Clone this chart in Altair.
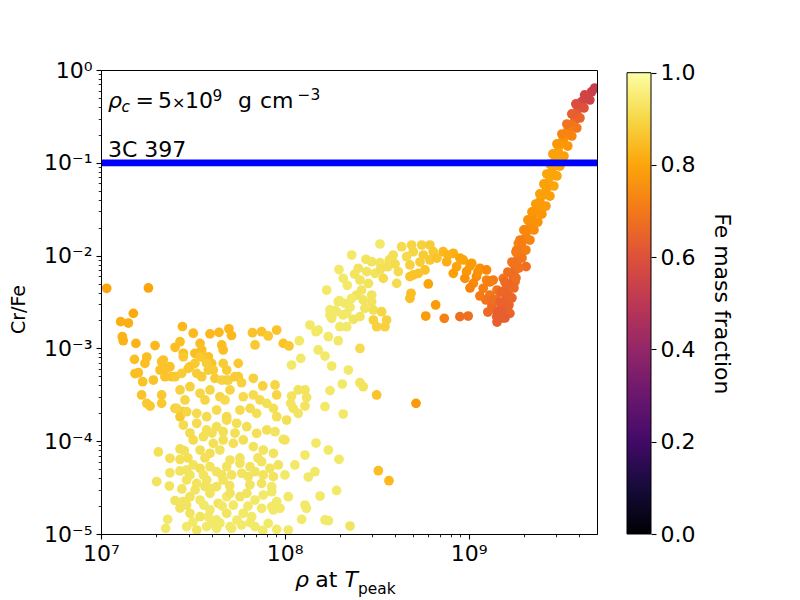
import altair as alt
import pandas as pd

# ---------------------------------------------------------------------------
# Data: (log10 rho at T_peak, log10 Cr/Fe, Fe mass fraction)
# ---------------------------------------------------------------------------
outliers_left = [
    (7.031, -2.352, 0.80), (7.258, -2.349, 0.80), (7.176, -2.622, 0.81),
]

upper_left = [
    (7.107, -2.712, 0.82), (7.149, -2.727, 0.82), (7.116, -2.874, 0.83), (7.121, -2.917, 0.83),
    (7.190, -2.946, 0.83), (7.294, -2.969, 0.84), (7.443, -2.764, 0.84), (7.502, -2.836, 0.84),
    (7.593, -2.843, 0.84), (7.642, -2.827, 0.84), (7.696, -2.789, 0.84), (7.710, -2.861, 0.84),
    (7.182, -3.118, 0.85), (7.249, -3.093, 0.85), (7.239, -3.161, 0.85), (7.185, -3.271, 0.85),
    (7.203, -3.262, 0.85), (7.227, -3.359, 0.86), (7.221, -3.502, 0.86), (7.249, -3.592, 0.87),
    (7.267, -3.621, 0.87), (7.403, -2.988, 0.85), (7.430, -2.928, 0.85), (7.448, -3.053, 0.85),
    (7.511, -3.053, 0.85), (7.539, -2.946, 0.85), (7.548, -3.017, 0.85), (7.566, -3.107, 0.85),
    (7.584, -3.090, 0.86), (7.602, -3.161, 0.86), (7.657, -2.963, 0.85), (7.665, -3.017, 0.85),
    (7.339, -3.125, 0.86), (7.375, -3.197, 0.86), (7.321, -3.233, 0.86), (7.348, -3.305, 0.86),
    (7.285, -3.341, 0.86), (7.330, -3.502, 0.87), (7.330, -3.592, 0.87), (7.403, -3.646, 0.87),
    (7.430, -3.736, 0.87), (7.448, -3.682, 0.87), (7.385, -3.305, 0.86), (7.357, -3.215, 0.86),
    (7.330, -3.144, 0.86),
]

upper_mid = [
    (7.448, -3.090, 0.87), (7.484, -3.197, 0.88), (7.539, -3.090, 0.87), (7.575, -3.161, 0.88),
    (7.521, -3.269, 0.88), (7.611, -3.233, 0.88), (7.665, -3.161, 0.88), (7.684, -3.341, 0.89),
    (7.403, -3.305, 0.87), (7.439, -3.269, 0.88), (7.475, -3.215, 0.87), (7.511, -3.161, 0.87),
    (7.548, -3.305, 0.88), (7.584, -3.233, 0.88), (7.620, -3.323, 0.88), (7.657, -3.341, 0.89),
    (7.693, -3.341, 0.89), (7.729, -3.305, 0.88), (7.747, -3.161, 0.87), (7.684, -3.233, 0.88),
    (7.747, -3.305, 0.88), (7.765, -3.370, 0.89), (7.824, -2.831, 0.86), (7.838, -2.963, 0.87),
    (7.874, -2.820, 0.86), (7.910, -2.866, 0.87), (7.956, -2.802, 0.86), (7.829, -3.322, 0.89),
    (7.880, -3.405, 0.89), (7.947, -3.394, 0.90), (7.956, -3.502, 0.90), (7.992, -2.946, 0.86),
    (8.023, -2.974, 0.87),
]

lower_core = [
    (7.430, -3.448, 0.89), (7.484, -3.413, 0.89), (7.539, -3.484, 0.90), (7.593, -3.448, 0.90),
    (7.647, -3.521, 0.90), (7.412, -3.646, 0.90), (7.466, -3.682, 0.90), (7.521, -3.700, 0.91),
    (7.575, -3.736, 0.91), (7.629, -3.664, 0.91), (7.684, -3.736, 0.91), (7.448, -3.826, 0.91),
    (7.521, -3.807, 0.91), (7.575, -3.879, 0.92), (7.629, -3.844, 0.92), (7.665, -3.898, 0.92),
    (7.502, -3.987, 0.91), (7.557, -3.952, 0.92), (7.611, -4.023, 0.92), (7.665, -3.987, 0.92),
    (7.539, -4.095, 0.92), (7.593, -4.130, 0.92), (7.647, -4.095, 0.93), (7.502, -4.256, 0.93),
    (7.539, -4.292, 0.92), (7.593, -4.275, 0.93), (7.629, -4.329, 0.93), (7.684, -4.275, 0.93),
    (7.466, -4.418, 0.93), (7.521, -4.454, 0.93), (7.575, -4.418, 0.93), (7.629, -4.490, 0.93),
    (7.665, -4.418, 0.93), (7.484, -4.598, 0.93), (7.539, -4.634, 0.94), (7.593, -4.561, 0.93),
    (7.638, -4.669, 0.93), (7.684, -4.598, 0.94), (7.484, -4.777, 0.93), (7.539, -4.814, 0.93),
    (7.593, -4.741, 0.94), (7.629, -4.849, 0.94), (7.684, -4.777, 0.93), (7.466, -4.921, 0.94),
    (7.521, -4.957, 0.93), (7.575, -4.921, 0.94), (7.629, -4.939, 0.94),
]

lower_core_fill = [
    (7.457, -3.556, 0.90), (7.566, -3.556, 0.90), (7.675, -3.556, 0.91),
    (7.484, -3.912, 0.91), (7.604, -3.912, 0.92), (7.729, -3.912, 0.92),
    (7.473, -4.181, 0.92), (7.566, -4.181, 0.92), (7.756, -4.181, 0.93), (7.854, -4.181, 0.93),
    (7.484, -4.364, 0.93), (7.557, -4.364, 0.93), (7.657, -4.364, 0.93),
    (7.440, -4.515, 0.93), (7.512, -4.525, 0.93), (7.602, -4.510, 0.93), (7.700, -4.480, 0.93),
    (7.810, -4.470, 0.93), (7.430, -4.720, 0.93), (7.560, -4.690, 0.94), (7.660, -4.700, 0.94),
    (7.720, -4.690, 0.94), (7.800, -4.700, 0.94), (7.500, -4.870, 0.94), (7.600, -4.880, 0.94),
    (7.740, -4.850, 0.94), (7.880, -4.960, 0.94),
]

lower_left = [
    (7.312, -4.116, 0.92), (7.375, -4.184, 0.92), (7.430, -4.084, 0.92), (7.453, -4.102, 0.92),
    (7.430, -4.197, 0.92), (7.375, -4.340, 0.93), (7.430, -4.321, 0.93), (7.303, -4.436, 0.93),
    (7.372, -4.483, 0.93), (7.403, -4.639, 0.93), (7.446, -4.650, 0.93), (7.363, -4.842, 0.94),
    (7.352, -4.939, 0.94), (7.466, -4.310, 0.93), (7.466, -4.688, 0.93), (7.584, -4.814, 0.94),
    (7.566, -4.490, 0.93), (7.647, -4.882, 0.94), (7.711, -4.939, 0.94), (7.765, -4.903, 0.94),
    (7.811, -4.878, 0.94), (7.838, -4.921, 0.94),
]

lower_mid = [
    (7.711, -4.364, 0.93), (7.766, -4.346, 0.93), (7.801, -4.382, 0.93), (7.838, -4.329, 0.93),
    (7.883, -4.364, 0.93), (7.874, -4.454, 0.93), (7.929, -4.490, 0.94), (7.793, -4.561, 0.93),
    (7.838, -4.634, 0.94), (7.883, -4.580, 0.94), (7.929, -4.544, 0.94), (7.774, -4.777, 0.94),
    (7.820, -4.814, 0.94), (7.874, -4.723, 0.94), (7.929, -4.705, 0.94), (7.974, -4.723, 0.94),
    (7.956, -4.652, 0.94), (7.910, -4.885, 0.94), (7.956, -4.950, 0.94), (8.019, -4.957, 0.94),
]

middle = [
    (7.702, -3.448, 0.90), (7.774, -3.521, 0.91), (7.829, -3.502, 0.91), (7.865, -3.556, 0.91),
    (7.756, -3.664, 0.91), (7.811, -3.646, 0.91), (7.847, -3.700, 0.92), (7.902, -3.592, 0.92),
    (7.938, -3.646, 0.92), (7.956, -3.736, 0.92), (8.010, -3.772, 0.92), (7.684, -3.772, 0.91),
    (7.738, -3.807, 0.92), (7.793, -3.844, 0.92), (7.847, -3.915, 0.92), (7.902, -3.879, 0.92),
    (7.947, -3.898, 0.93), (7.992, -3.980, 0.93), (7.720, -4.023, 0.92), (7.774, -3.987, 0.92),
    (7.829, -4.059, 0.93), (7.883, -4.095, 0.93), (7.938, -4.130, 0.93), (7.702, -4.203, 0.93),
    (7.756, -4.238, 0.93), (7.811, -4.275, 0.93), (7.874, -4.221, 0.93), (7.919, -4.292, 0.93),
    (7.965, -4.256, 0.93), (7.938, -4.382, 0.93), (8.001, -4.364, 0.94), (7.702, -4.561, 0.93),
    (7.756, -4.598, 0.93), (7.938, -4.741, 0.94), (7.702, -4.921, 0.94),
]

right_sparse = [
    (8.001, -3.987, 0.93), (8.110, -4.149, 0.94), (8.170, -4.020, 0.94), (8.237, -4.095, 0.94),
    (8.295, -4.195, 0.94), (8.055, -4.256, 0.94), (8.128, -4.386, 0.94), (8.164, -4.329, 0.94),
    (8.192, -4.591, 0.94), (8.282, -4.531, 0.94), (8.019, -4.598, 0.94), (8.219, -4.849, 0.94),
    (8.237, -4.857, 0.94), (8.355, -4.914, 0.93), (8.110, -4.688, 0.94), (8.118, -4.723, 0.94),
    (8.092, -4.842, 0.94), (8.313, -3.384, 0.94), (8.246, -3.455, 0.94), (8.219, -3.628, 0.94),
    (8.318, -3.707, 0.94), (8.073, -3.448, 0.93), (8.110, -3.448, 0.93), (8.119, -3.529, 0.93),
    (8.110, -3.621, 0.93), (8.073, -3.700, 0.93), (8.046, -3.646, 0.93), (8.037, -3.513, 0.93),
    (8.032, -3.592, 0.93),
]

mid_upper = [
    (8.228, -2.371, 0.94), (8.291, -2.497, 0.94), (8.273, -2.594, 0.94), (8.246, -2.640, 0.94),
    (8.328, -2.514, 0.94), (8.337, -2.622, 0.94), (8.137, -2.748, 0.94), (8.182, -2.802, 0.94),
    (8.300, -2.766, 0.94), (8.337, -2.766, 0.94), (8.079, -2.917, 0.94), (8.237, -2.874, 0.94),
    (8.291, -2.917, 0.94), (8.182, -3.017, 0.94), (8.219, -3.082, 0.94), (8.087, -3.107, 0.94),
    (8.037, -3.179, 0.94), (8.255, -3.190, 0.94), (8.346, -3.233, 0.94), (8.170, -2.820, 0.94),
    (8.409, -3.001, 0.91), (8.409, -3.370, 0.93), (8.427, -3.413, 0.93),
]

isolated_orange = [
    (8.500, -3.502, 0.86), (8.714, -3.592, 0.78), (8.509, -4.318, 0.85), (8.567, -4.426, 0.84),
]

hump_left = [
    (8.518, -1.875, 0.94), (8.364, -1.994, 0.94), (8.295, -2.150, 0.94), (8.318, -2.245, 0.94),
    (8.442, -2.040, 0.93), (8.473, -2.066, 0.93), (8.518, -2.077, 0.93), (8.569, -2.047, 0.92),
    (8.590, -1.994, 0.92), (8.400, -2.137, 0.93), (8.446, -2.173, 0.93), (8.491, -2.191, 0.93),
    (8.536, -2.245, 0.91), (8.609, -2.299, 0.91), (8.618, -2.173, 0.91), (8.409, -2.263, 0.93),
    (8.418, -2.371, 0.93), (8.391, -2.425, 0.93), (8.364, -2.460, 0.94), (8.427, -2.478, 0.93),
    (8.473, -2.425, 0.93), (8.473, -2.497, 0.93), (8.436, -2.568, 0.93), (8.482, -2.586, 0.92),
    (8.527, -2.605, 0.90), (8.297, -2.486, 0.94), (8.355, -2.557, 0.94), (8.246, -2.586, 0.94),
    (8.282, -2.605, 0.94), (8.318, -2.640, 0.94), (8.255, -2.676, 0.94), (8.373, -2.686, 0.93),
    (8.409, -2.658, 0.93), (8.482, -2.694, 0.89), (8.500, -2.766, 0.89), (8.545, -2.766, 0.89),
    (8.554, -2.694, 0.89), (8.340, -2.320, 0.94), (8.380, -2.200, 0.93), (8.455, -2.300, 0.93),
    (8.520, -2.150, 0.92), (8.560, -2.120, 0.92), (8.600, -2.090, 0.91),
]

hump_top = [
    (8.636, -1.904, 0.91), (8.690, -1.886, 0.90), (8.745, -1.886, 0.89), (8.790, -1.886, 0.88),
    (8.699, -1.958, 0.90), (8.663, -2.012, 0.91), (8.754, -1.994, 0.88), (8.808, -1.958, 0.87),
    (8.681, -2.227, 0.86), (8.699, -2.209, 0.86), (8.727, -2.191, 0.86), (8.781, -2.306, 0.80),
    (8.687, -2.406, 0.85), (8.681, -2.460, 0.85), (8.821, -2.532, 0.78), (8.767, -2.651, 0.78),
    (8.868, -2.676, 0.72), (8.953, -2.658, 0.68), (8.998, -2.651, 0.68), (8.681, -2.101, 0.89),
    (8.736, -2.069, 0.88), (8.790, -2.047, 0.87), (8.828, -2.026, 0.86), (8.763, -2.155, 0.86),
]

hump_right = [
    (8.862, -1.958, 0.84), (8.917, -1.975, 0.82), (8.971, -2.047, 0.80), (9.017, -2.083, 0.78),
    (9.062, -2.137, 0.76), (9.098, -2.155, 0.74), (8.881, -2.066, 0.82), (8.935, -2.120, 0.80),
    (8.989, -2.173, 0.77), (9.043, -2.227, 0.75), (9.098, -2.263, 0.73), (9.134, -2.263, 0.71),
    (8.917, -2.191, 0.79), (8.980, -2.245, 0.76), (9.026, -2.299, 0.74), (9.080, -2.352, 0.72),
    (9.116, -2.425, 0.70), (9.153, -2.478, 0.68), (9.171, -2.586, 0.67), (9.153, -2.658, 0.66),
    (9.189, -2.245, 0.70), (9.207, -2.335, 0.68), (9.225, -2.443, 0.67), (9.207, -2.551, 0.66),
    (9.225, -2.622, 0.65), (9.243, -2.083, 0.70), (9.262, -1.940, 0.72), (9.271, -1.868, 0.73),
    (9.313, -2.119, 0.68), (9.253, -2.281, 0.68), (9.095, -2.478, 0.69), (9.127, -2.543, 0.67),
    (9.105, -2.608, 0.67), (9.062, -2.435, 0.71), (9.008, -2.349, 0.73), (9.155, -2.716, 0.64),
    (9.187, -2.672, 0.64), (8.888, -1.994, 0.83), (8.953, -2.026, 0.80), (9.008, -2.112, 0.78),
    (9.051, -2.177, 0.76), (9.116, -2.284, 0.72), (9.155, -2.371, 0.70), (9.171, -2.392, 0.68),
    (9.138, -2.478, 0.68), (9.198, -2.672, 0.64), (9.220, -2.532, 0.65),
]

rise_centre = [
    (9.670, -0.234, 0.54), (9.643, -0.288, 0.55), (9.616, -0.342, 0.57), (9.597, -0.413, 0.60),
    (9.588, -0.467, 0.63), (9.579, -0.539, 0.66), (9.561, -0.593, 0.70), (9.542, -0.647, 0.72),
    (9.534, -0.700, 0.74), (9.515, -0.754, 0.76), (9.497, -0.808, 0.78), (9.488, -0.880, 0.79),
    (9.479, -0.934, 0.80), (9.470, -0.988, 0.80), (9.461, -1.042, 0.80), (9.452, -1.096, 0.80),
    (9.443, -1.150, 0.80), (9.434, -1.221, 0.80), (9.425, -1.275, 0.79), (9.407, -1.347, 0.79),
    (9.388, -1.419, 0.78), (9.379, -1.473, 0.78), (9.361, -1.544, 0.77), (9.343, -1.616, 0.76),
    (9.334, -1.689, 0.75), (9.316, -1.743, 0.74), (9.307, -1.814, 0.73), (9.289, -1.868, 0.72),
    (9.280, -1.940, 0.71), (9.271, -2.012, 0.70), (9.262, -2.083, 0.69), (9.253, -2.155, 0.68),
    (9.243, -2.227, 0.67), (9.234, -2.299, 0.66), (9.216, -2.371, 0.66), (9.207, -2.443, 0.65),
    (9.198, -2.514, 0.65), (9.180, -2.586, 0.64), (9.162, -2.658, 0.64),
]

rise_right_edge = [
    (9.687, -0.194, 0.53), (9.660, -0.323, 0.56), (9.628, -0.409, 0.60), (9.606, -0.517, 0.65),
    (9.589, -0.625, 0.70), (9.562, -0.711, 0.73), (9.540, -0.819, 0.77), (9.519, -0.927, 0.79),
    (9.497, -1.035, 0.80), (9.481, -1.142, 0.80), (9.464, -1.250, 0.80), (9.443, -1.358, 0.79),
    (9.421, -1.466, 0.78), (9.399, -1.552, 0.77), (9.377, -1.638, 0.76), (9.356, -1.724, 0.75),
    (9.334, -1.832, 0.73), (9.312, -1.940, 0.72), (9.291, -2.026, 0.70), (9.274, -2.134, 0.69),
    (9.258, -2.241, 0.68), (9.247, -2.349, 0.67), (9.236, -2.457, 0.66),
]

rise_left_edge = [
    (9.632, -0.269, 0.56), (9.584, -0.366, 0.59), (9.562, -0.474, 0.64), (9.535, -0.582, 0.69),
    (9.508, -0.690, 0.73), (9.481, -0.797, 0.77), (9.459, -0.905, 0.79), (9.443, -1.013, 0.80),
    (9.426, -1.121, 0.80), (9.410, -1.228, 0.79), (9.388, -1.336, 0.79), (9.366, -1.444, 0.78),
    (9.345, -1.530, 0.77), (9.323, -1.616, 0.76), (9.301, -1.724, 0.74), (9.280, -1.832, 0.72),
    (9.258, -1.961, 0.71), (9.236, -2.069, 0.69), (9.214, -2.177, 0.68), (9.198, -2.284, 0.67),
    (9.182, -2.392, 0.66), (9.171, -2.500, 0.65), (9.155, -2.608, 0.64),
]

regions = [
    outliers_left, upper_left, upper_mid, lower_core, lower_core_fill, lower_left, lower_mid,
    middle, right_sparse, mid_upper, isolated_orange, hump_left, hump_top, hump_right,
    rise_centre, rise_right_edge, rise_left_edge,
]

rows = []
for reg in regions:
    for lr, lc, f in reg:
        rows.append({"rho": 10 ** lr, "crfe": 10 ** lc, "fe": f})
df = pd.DataFrame(rows)

# ---------------------------------------------------------------------------
# Axis ticks / labels
# ---------------------------------------------------------------------------
x_major = [1e7, 1e8, 1e9]
x_major_labels = ["10⁷", "10⁸", "10⁹"]
x_minor = [2e7, 3e7, 4e7, 5e7, 6e7, 7e7, 8e7, 9e7,
           2e8, 3e8, 4e8, 5e8, 6e8, 7e8, 8e8, 9e8,
           2e9, 3e9, 4e9]
y_major = [1.0, 1e-1, 1e-2, 1e-3, 1e-4, 1e-5]
y_major_labels = ["10⁰", "10⁻¹", "10⁻²", "10⁻³", "10⁻⁴", "10⁻⁵"]
y_minor = [2e-5, 3e-5, 4e-5, 5e-5, 6e-5, 7e-5, 8e-5, 9e-5,
           2e-4, 3e-4, 4e-4, 5e-4, 6e-4, 7e-4, 8e-4, 9e-4,
           2e-3, 3e-3, 4e-3, 5e-3, 6e-3, 7e-3, 8e-3, 9e-3,
           2e-2, 3e-2, 4e-2, 5e-2, 6e-2, 7e-2, 8e-2, 9e-2,
           0.2, 0.3, 0.4, 0.5, 0.6, 0.7, 0.8, 0.9]
cbar_ticks = [0.0, 0.2, 0.4, 0.6, 0.8, 1.0]

inferno_offsets = [0.0, 0.1, 0.2, 0.3, 0.4, 0.5, 0.6, 0.7, 0.8, 0.9, 1.0]
inferno_colors = ["#000004", "#160b39", "#420a68", "#6a176e", "#932667", "#bc3754",
                  "#dd513a", "#f37819", "#fca50a", "#f6d746", "#fcffa4"]


def label_expr(vals, labs):
    s = ""
    for v, lab in zip(vals, labs):
        s += f"abs(datum.value / {v!r} - 1) < 1e-6 ? '{lab}' : "
    return s + "''"


MAJOR = "abs(log(datum.value) / LN10 - round(log(datum.value) / LN10)) < 0.001"
tick_size = {"condition": {"test": MAJOR, "value": 5}, "value": 2.8}
tick_width = {"condition": {"test": MAJOR, "value": 1.1}, "value": 0.85}

W, H = 496, 464
FONT = "DejaVu Sans"

points = alt.Chart(df).mark_circle(size=95, opacity=1, clip=True).encode(
    x=alt.X(
        "rho:Q",
        scale=alt.Scale(type="log", domain=[1e7, 5e9], nice=False),
        axis=alt.Axis(
            values=x_major + x_minor, labelExpr=label_expr(x_major, x_major_labels),
            tickSize=tick_size, tickWidth=tick_width, labelFlush=False, labelOverlap=False,
            labelFontSize=22, labelPadding=4, title=None, grid=False, zindex=1,
        ),
    ),
    y=alt.Y(
        "crfe:Q",
        scale=alt.Scale(type="log", domain=[1e-5, 1], nice=False),
        axis=alt.Axis(
            orient="left", values=y_major + y_minor,
            labelExpr=label_expr(y_major, y_major_labels),
            tickSize=tick_size, tickWidth=tick_width, labelFlush=False, labelOverlap=False,
            labelFontSize=22, labelPadding=4, title=None, grid=False, zindex=1,
        ),
    ),
    color=alt.Color("fe:Q", scale=alt.Scale(scheme="inferno", domain=[0, 1]), legend=None),
)

one = alt.Data(values=[{"k": 0}])

rule = alt.Chart(one).mark_rule(color="#0000ff", strokeWidth=6.7).encode(
    y=alt.YDatum(0.1)
)


def txt(s, x, y, size=22, style="normal", angle=0, align="left", baseline="alphabetic"):
    return alt.Chart(one).mark_text(
        text=s, align=align, baseline=baseline, fontSize=size, angle=angle,
        fontStyle=style, font=FONT, color="black",
    ).encode(x=alt.value(x), y=alt.value(y))


texts = [
    # rho_c = 5 x 10^9 g cm^-3
    txt("ρ", 7, 38.3, style="italic"),
    txt("c", 20.5, 41.7, size=15.4, style="italic"),
    txt("=", 34.5, 38.3),
    txt("5", 57, 38.3),
    txt("×", 71, 38.3, size=16),
    txt("10", 84, 38.3),
    txt("9", 111.5, 30.5, size=15.4),
    txt("g", 137, 38.3),
    txt("cm", 159, 38.3),
    txt("−3", 196.5, 29.5, size=15.4),
    # 3C 397
    txt("3C 397", 7, 86.7),
    # x-axis title: rho at T_peak
    txt("ρ", 194, 516.7, style="italic"),
    txt("at", 214.3, 516.7),
    txt("T", 243.4, 516.7, style="italic"),
    txt("peak", 257, 524, size=15.4),
    # y-axis title
    txt("Cr/Fe", -82.5, 239.5, size=19, angle=270, align="center", baseline="middle"),
]

inner = alt.layer(points, rule, *texts)

cbar = alt.Chart(one).mark_rect(
    color=alt.LinearGradient(
        gradient="linear",
        stops=[alt.GradientStop(color=c, offset=o) for o, c in zip(inferno_offsets, inferno_colors)],
        x1=0, x2=0, y1=1, y2=0,
    ),
    stroke="black", strokeWidth=1,
).encode(
    x=alt.value(526), x2=alt.value(550),
    y=alt.YDatum(
        0,
        scale=alt.Scale(domain=[0, 1], range=[H, 2.7]),
        axis=alt.Axis(
            orient="right", offset=54, values=cbar_ticks, format=".1f", tickSize=5,
            tickWidth=1.1, labelFontSize=22, labelPadding=4, labelFlush=False,
            domain=False, grid=False, title="Fe mass fraction", titleFontSize=22,
            titleFontWeight="normal", titlePadding=15,
        ),
    ),
    y2=alt.Y2Datum(1),
)

chart = (
    alt.layer(inner, cbar)
    .resolve_scale(y="independent")
    .properties(
        width=W, height=H,
        padding={"left": 93, "top": 62, "right": 190, "bottom": 64},
        autosize=alt.AutoSizeParams(type="none"),
    )
    .configure(font=FONT)
    .configure_view(stroke="black", strokeWidth=1)
    .configure_axis(
        domainColor="black", domainWidth=1, tickColor="black", labelColor="black",
        titleColor="black", labelFont=FONT, titleFont=FONT,
    )
)

chart.save("out.html", embed_options={"renderer": "svg", "actions": False})
